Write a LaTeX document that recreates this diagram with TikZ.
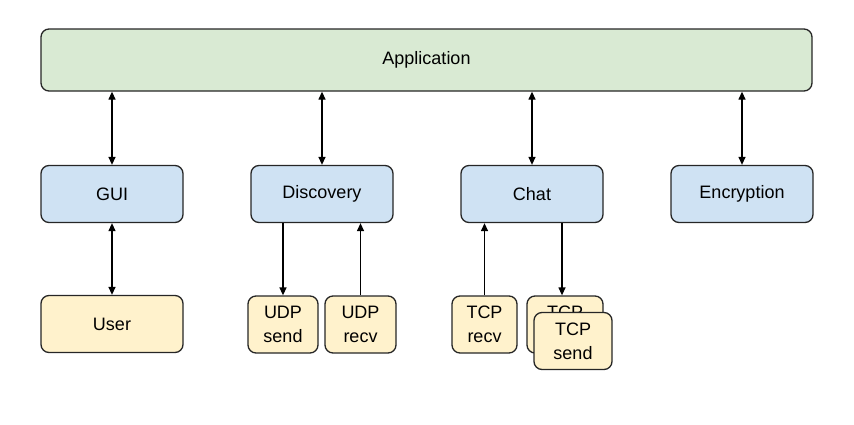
\documentclass[tikz,border=0pt]{standalone}
\usepackage{fontspec}
\setmainfont{Liberation Sans}
\usepackage{tikz}
\usetikzlibrary{
	positioning,
	arrows.meta,
	calc}
\definecolor{appgreen}{HTML}{D9EAD3}
\definecolor{modblue}{HTML}{CFE2F3}
\definecolor{ioyellow}{HTML}{FFF2CC}
\tikzset{
	block/.style={
		rectangle,
		rounded corners=8pt,
		draw=black!85,
		line width=1.3pt,
		inner sep=0pt,
		align=center,
		font=\fontsize{18}{24}\selectfont
	},
	app block/.style={block, fill=appgreen, minimum width=771pt, minimum height=62pt},
	module/.style={block, fill=modblue, minimum width=142pt, minimum height=57pt},
	io/.style={block, fill=ioyellow, minimum height=57pt},
	flow/.style={line width=1.3pt, -{Triangle[length=8pt,width=7pt]}},
	both flow/.style={line width=1.3pt, {Triangle[length=8pt,width=7pt]}-{Triangle[length=8pt,width=7pt]}},
}

\begin{document}
\begin{tikzpicture}[x=1pt, y=-1pt]
	\useasboundingbox (0,0) rectangle (854,424);
	\node[app block]                (app)  at (426.5,60) {Application};
	\node[module]                   (gui)  at (112,194) {GUI};
	\node[module, right=66.7pt of gui]  (disc) {Discovery};
	\node[module, right=66.7pt of disc] (chat) {Chat};
	\node[module, right=66.7pt of chat] (enc)  {Encryption};
	\node[io, minimum width=142pt, below=71.7pt of gui] (user) {User};
	\node[io, minimum width=70pt] (udpsend)  at (283,324.5) {UDP\\send};
	\node[io, minimum width=71pt] (udprecv)  at (360.5,324.5) {UDP\\recv};
	\node[io, minimum width=65pt] (tcprecv)  at (484.5,324.5) {TCP\\recv};
	\node[io, minimum width=76pt] (tcpsendb) at (565,324.5) {TCP\\send};
	\node[io, minimum width=78pt] (tcpsend)  at (573,341) {TCP\\send};
%
	\draw[both flow] (gui.north |- app.south)  -- (gui.north);
	\draw[both flow] (disc.north |- app.south) -- (disc.north);
	\draw[both flow] (chat.north |- app.south) -- (chat.north);
	\draw[both flow] (enc.north |- app.south)  -- (enc.north);
	\draw[both flow] (gui) -- (user);
%
	\draw[flow] (udpsend.north |- disc.south) -- (udpsend.north);
	\draw[flow] (udprecv.north) -- (udprecv.north |- disc.south);
	\draw[flow] (tcprecv.north) -- (tcprecv.north |- chat.south);
	\draw[flow] ([xshift=-3pt]tcpsendb.north |- chat.south) -- ([xshift=-3pt]tcpsendb.north);
\end{tikzpicture}
\end{document}
